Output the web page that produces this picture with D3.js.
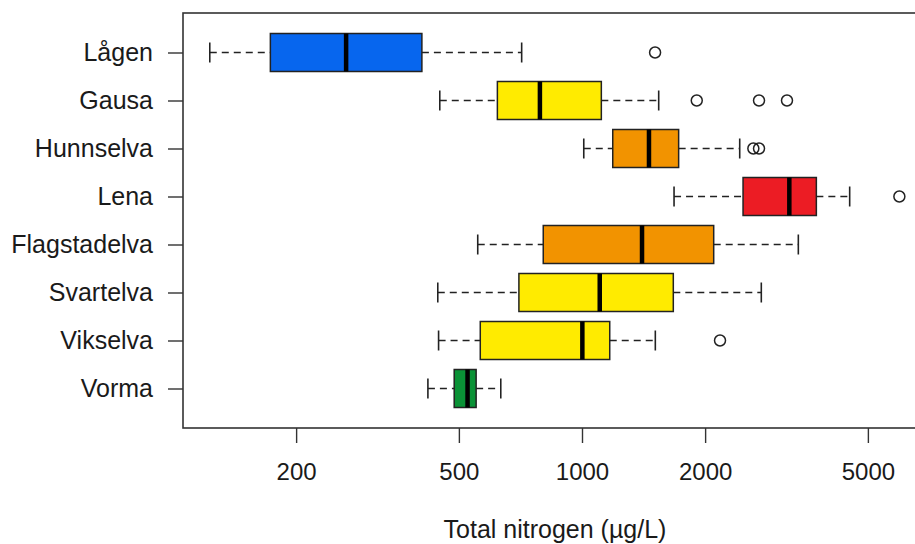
<!DOCTYPE html>
<html>
<head>
<meta charset="utf-8">
<script src="https://cdn.jsdelivr.net/npm/d3@7"></script>
<style>
body { margin: 0; background: #fff; }
svg { display: block; }
text { font-family: "Liberation Sans", Arial, sans-serif; fill: #1a1a1a; }
</style>
</head>
<body>
<svg id="chart" width="915" height="544"></svg>
<script>
const categories = ["Lågen", "Gausa", "Hunnselva", "Lena", "Flagstadelva", "Svartelva", "Vikselva", "Vorma"];
const whiskerLow  = [123, 449, 1010, 1679, 556, 444, 446, 420];
const q1          = [173, 621, 1189, 2476, 804, 701, 564, 487];
const medians     = [265, 789, 1458, 3213, 1402, 1105, 1002, 525];
const q3          = [406, 1115, 1723, 3741, 2099, 1672, 1169, 551];
const whiskerHigh = [712, 1540, 2430, 4513, 3380, 2744, 1511, 633];
const outliers    = [[1509], [1908, 2709, 3171], [2624, 2709], [5970], [], [], [2175], []];
const colors      = ["#0766ee", "#ffeb00", "#f29300", "#ec1c24", "#f29300", "#ffeb00", "#ffeb00", "#0a9236"];
const tickValues  = [200, 500, 1000, 2000, 5000];
const xTitle = "Total nitrogen (µg/L)";

const svg = d3.select("#chart");
const pLeft = 183, pRight = 927, pTop = 13, pBottom = 428;

const x = d3.scaleLog()
  .domain([1000 * Math.pow(10, (pLeft - 582) / 409), 1000 * Math.pow(10, (pRight - 582) / 409)])
  .range([pLeft, pRight]);
const y = d3.scalePoint().domain(categories).range([52.5, 388.5]);
const halfBox = 19, halfCap = 10;

// frame
svg.append("rect").attr("x", pLeft).attr("y", pTop).attr("width", pRight - pLeft).attr("height", pBottom - pTop)
  .attr("fill", "none").attr("stroke", "#333").attr("stroke-width", 1.6);

// x axis
const xAxis = d3.axisBottom(x).tickValues(tickValues).tickFormat(d3.format("d")).tickSize(15).tickPadding(20);
const gx = svg.append("g").attr("transform", `translate(0,${pBottom})`).call(xAxis);
gx.select(".domain").remove();
gx.selectAll(".tick line").attr("stroke", "#333").attr("stroke-width", 1.4);
gx.selectAll(".tick text").attr("font-size", 24).style("fill", "#1a1a1a");

// y axis
const yAxis = d3.axisLeft(y).tickSize(15).tickPadding(15);
const gy = svg.append("g").attr("transform", `translate(${pLeft},0)`).call(yAxis);
gy.select(".domain").remove();
gy.selectAll(".tick line").attr("stroke", "#333").attr("stroke-width", 1.4);
gy.selectAll(".tick text").attr("font-size", 25).style("fill", "#1a1a1a");

// x title
svg.append("text").attr("x", 555).attr("y", 538).attr("text-anchor", "middle")
  .attr("font-size", 25).text(xTitle);

const data = categories.map((c, i) => ({
  c, lo: whiskerLow[i], q1: q1[i], med: medians[i], q3: q3[i], hi: whiskerHigh[i], out: outliers[i], col: colors[i]
}));

const g = svg.append("g");
data.forEach(d => {
  const cy = y(d.c);
  [[d.lo, d.q1], [d.q3, d.hi]].forEach(([a, b]) => {
    g.append("line").attr("x1", x(a)).attr("x2", x(b)).attr("y1", cy).attr("y2", cy)
      .attr("stroke", "#222").attr("stroke-width", 1.6).attr("stroke-dasharray", "7,5");
  });
  [d.lo, d.hi].forEach(v => {
    g.append("line").attr("x1", x(v)).attr("x2", x(v)).attr("y1", cy - halfCap).attr("y2", cy + halfCap)
      .attr("stroke", "#222").attr("stroke-width", 1.6);
  });
  g.append("rect").attr("x", x(d.q1)).attr("y", cy - halfBox).attr("width", x(d.q3) - x(d.q1)).attr("height", 2 * halfBox)
    .attr("fill", d.col).attr("stroke", "#222").attr("stroke-width", 1.5);
  g.append("line").attr("x1", x(d.med)).attr("x2", x(d.med)).attr("y1", cy - halfBox).attr("y2", cy + halfBox)
    .attr("stroke", "#000").attr("stroke-width", 4.5);
  d.out.forEach(v => {
    g.append("circle").attr("cx", x(v)).attr("cy", cy).attr("r", 5.5)
      .attr("fill", "none").attr("stroke", "#222").attr("stroke-width", 1.5);
  });
});
</script>
</body>
</html>
